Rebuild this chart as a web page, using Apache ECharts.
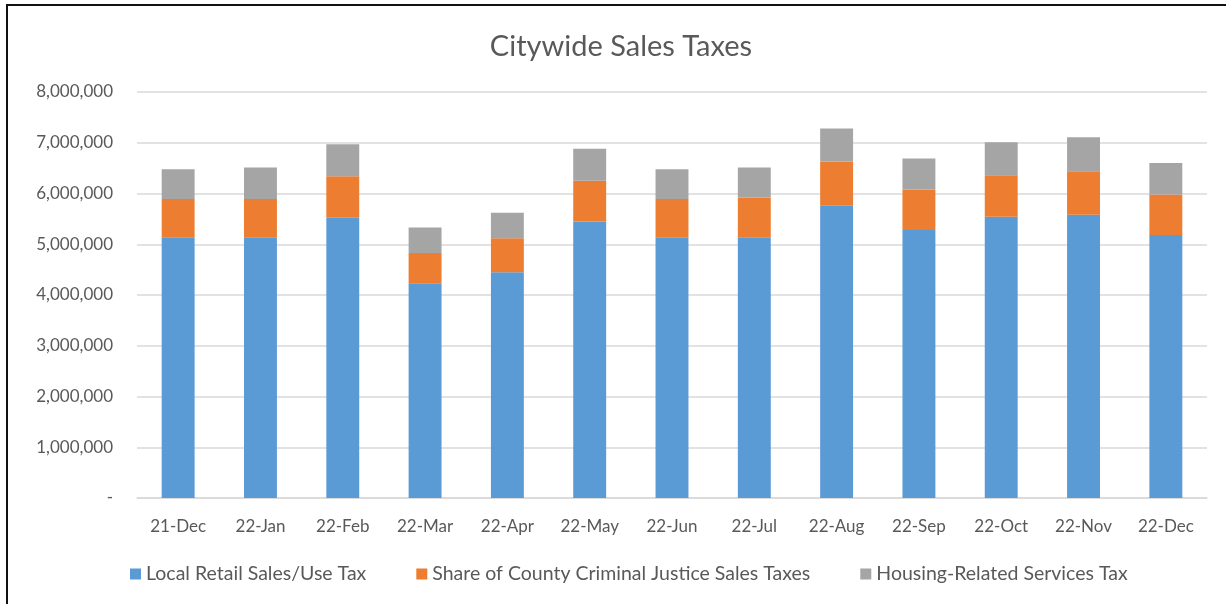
<!DOCTYPE html>
<html>
<head>
<meta charset="utf-8">
<script src="https://cdn.jsdelivr.net/npm/echarts@6/dist/echarts.min.js"></script>
<style>
html,body{margin:0;padding:0;background:#fff;}
#c{width:1226px;height:604px;}
</style>
</head>
<body>
<div id="c"></div>
<script>
const categories = ['21-Dec','22-Jan','22-Feb','22-Mar','22-Apr','22-May','22-Jun','22-Jul','22-Aug','22-Sep','22-Oct','22-Nov','22-Dec'];
const localRetail = [5140000,5140000,5520000,4230000,4450000,5450000,5140000,5140000,5760000,5280000,5540000,5580000,5180000];
const countyCJ = [750000,750000,820000,600000,670000,800000,750000,780000,870000,800000,820000,860000,800000];
const housing = [590000,620000,630000,500000,500000,630000,590000,590000,650000,610000,650000,670000,620000];
const seriesNames = ['Local Retail Sales/Use Tax','Share of County Criminal Justice Sales Taxes','Housing-Related Services Tax'];
const yTicks = {min:0, max:8000000, interval:1000000};

const FONT = 'Lato';
const chart = echarts.init(document.getElementById('c'));
const txt = '#595959';
const mk = (name, data, color) => ({
  name, type:'bar', stack:'total', data, barWidth:'40%',
  itemStyle:{color}, emphasis:{disabled:true}
});
chart.setOption({
  animation:false,
  textStyle:{fontFamily:FONT},
  title:{text:'Citywide Sales Taxes', left:616, textAlign:'center', top:27,
    textStyle:{fontFamily:FONT, fontSize:29, fontWeight:'normal', color:txt}},
  grid:{left:137, right:19, top:92, bottom:106},
  legend:{bottom:15, left:125, icon:'rect', itemWidth:11, itemHeight:11, itemGap:50,
    textStyle:{fontFamily:FONT, fontSize:19.5, color:txt}, data:seriesNames},
  xAxis:{type:'category', data:categories,
    axisLine:{lineStyle:{color:'#D9D9D9', width:1.5}}, axisTick:{show:false},
    axisLabel:{color:txt, fontSize:17, fontFamily:FONT, margin:20}},
  yAxis:{type:'value', min:yTicks.min, max:yTicks.max, interval:yTicks.interval,
    axisLine:{show:false}, axisTick:{show:false},
    splitLine:{lineStyle:{color:'#D9D9D9', width:1.5}},
    axisLabel:{color:txt, fontSize:17, fontFamily:FONT, margin:24,
      formatter:v => v===0 ? '-' : v.toLocaleString('en-US')}},
  graphic:[{type:'rect', shape:{x:7, y:5, width:1240, height:620},
    style:{fill:'none', stroke:'#111', lineWidth:2}, silent:true}],
  series:[mk(seriesNames[0], localRetail, '#5B9BD5'),
          mk(seriesNames[1], countyCJ, '#ED7D31'),
          mk(seriesNames[2], housing, '#A5A5A5')]
});
</script>
</body>
</html>
